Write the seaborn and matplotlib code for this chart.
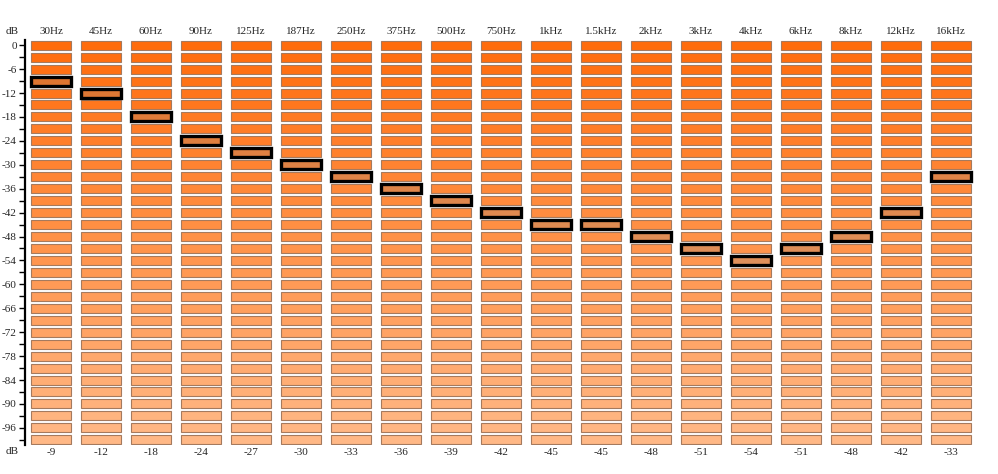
import numpy as np
import pandas as pd
import matplotlib
matplotlib.use("Agg")
import matplotlib.pyplot as plt
import seaborn as sns

# equalizer bands and the current gain of each band (dB)
bands = ["30Hz", "45Hz", "60Hz", "90Hz", "125Hz", "187Hz", "250Hz", "375Hz", "500Hz",
         "750Hz", "1kHz", "1.5kHz", "2kHz", "3kHz", "4kHz", "6kHz", "8kHz", "12kHz", "16kHz"]
gains = [-9, -12, -18, -24, -27, -30, -33, -36, -39, -42, -45, -45, -48, -51, -54, -51, -48, -42, -33]

# meter steps, 3 dB apart
levels = list(range(0, -100, -3))
tick_labels = [str(v) if v % 6 == 0 else "" for v in levels]

sns.set_style("white")
plt.rcParams["font.family"] = ["Liberation Serif", "DejaVu Serif"]

# one row per cell of the meter grid
cells = pd.DataFrame([(i, b, lv, lv == g) for i, (b, g) in enumerate(zip(bands, gains))
                      for lv in levels], columns=["pos", "band", "level", "active"])

pal = sns.blend_palette(["#ff6c0c", "#ffb886"], len(levels))
level_color = dict(zip(levels, pal))


def muted(c, k=0.25):
    c = np.array(c[:3])
    return tuple(c * (1 - k) + np.array([0.5, 0.5, 0.5]) * k)


cell_h = 2.25

fig = plt.figure(figsize=(9.98, 4.74), dpi=100)
ax = fig.add_axes([25 / 998, 1 - 445 / 474, (976 - 25) / 998, (445 - 40) / 474])

normal = cells[~cells["active"]]
ax.bar(normal["pos"], cell_h, bottom=normal["level"] - cell_h / 2, width=0.8,
       color=[level_color[v] for v in normal["level"]],
       edgecolor="#a57a5e", linewidth=0.8, zorder=2)

active = cells[cells["active"]]
ax.bar(active["pos"], cell_h, bottom=active["level"] - cell_h / 2, width=0.8,
       color=[muted(level_color[v]) for v in active["level"]],
       edgecolor="black", linewidth=2.4, zorder=3)

ax.set_xlim(-0.52, len(bands) - 0.5)
ax.set_ylim(-100.3, 1.3)

ax.set_yticks(levels)
ax.set_yticklabels(tick_labels, fontsize=8)
ax.tick_params(axis="y", length=4, width=1, pad=2, left=True, color="black")

ax.set_xticks(range(len(bands)))
ax.set_xticklabels([str(g) for g in gains], fontsize=8)
ax.tick_params(axis="x", length=0, pad=2)

top = ax.secondary_xaxis("top")
top.set_xticks(range(len(bands)))
top.set_xticklabels(bands, fontsize=8)
top.tick_params(axis="x", length=0, pad=3)
top.spines["top"].set_visible(False)

for s in ["top", "right", "bottom"]:
    ax.spines[s].set_visible(False)
ax.spines["left"].set_linewidth(1.6)
ax.spines["left"].set_color("black")

fig.text(12 / 998, 1 - 32 / 474, "dB", fontsize=8, ha="center", va="center")
fig.text(12 / 998, 1 - 452 / 474, "dB", fontsize=8, ha="center", va="center")

fig.savefig("out.png", dpi=100, facecolor="white")
